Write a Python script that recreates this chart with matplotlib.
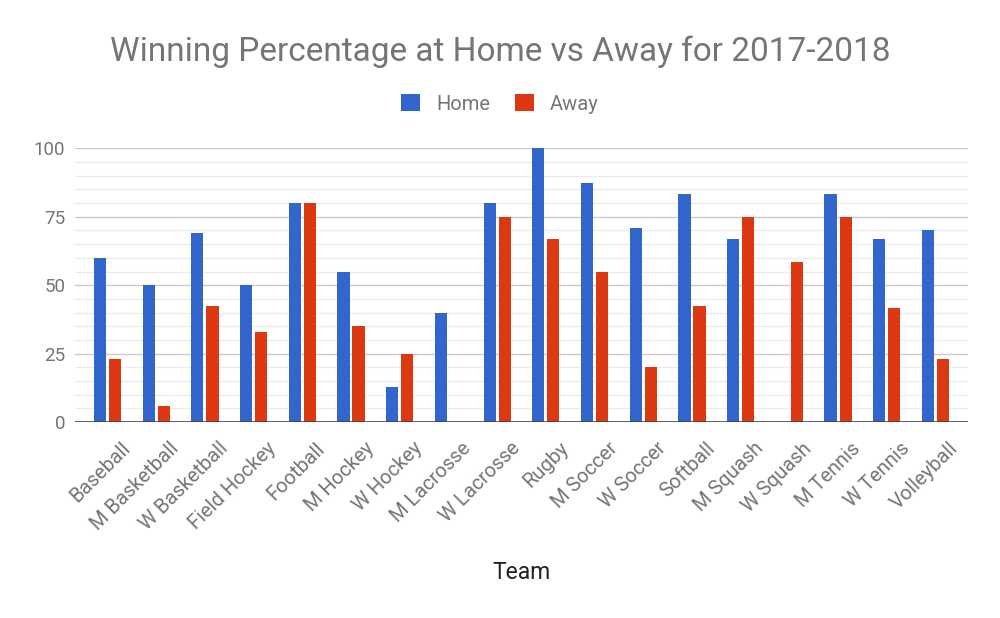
import numpy as np
import matplotlib
matplotlib.use('Agg')
import matplotlib.pyplot as plt
from matplotlib.ticker import MultipleLocator
from matplotlib.transforms import ScaledTranslation

teams = ['Baseball', 'M Basketball', 'W Basketball', 'Field Hockey', 'Football',
         'M Hockey', 'W Hockey', 'M Lacrosse', 'W Lacrosse', 'Rugby', 'M Soccer',
         'W Soccer', 'Softball', 'M Squash', 'W Squash', 'M Tennis', 'W Tennis',
         'Volleyball']
home = [60, 50, 69, 50, 80, 55, 13, 40, 80, 100, 87.5, 71, 83.3, 66.7, 0, 83.3, 66.7, 70]
away = [23, 6, 42.5, 33, 80, 35, 25, 0, 75, 66.7, 55, 20, 42.5, 75, 58.3, 75, 41.7, 23]
y_ticks = [0, 25, 50, 75, 100]

plt.rcParams['font.family'] = ['Roboto', 'DejaVu Sans']

fig = plt.figure(figsize=(10, 6.18), dpi=100)
ax = fig.add_axes([0.075, 0.317, 0.893, 0.443])

x = np.arange(len(teams))
w = 0.25
off = 0.155
ax.bar(x - off, home, w, color='#3366cc', label='Home', zorder=3)
ax.bar(x + off, away, w, color='#dc3912', label='Away', zorder=3)

ax.set_xlim(-0.667, len(teams) - 1 + 0.667)
ax.set_ylim(0, 100)
ax.set_yticks(y_ticks)
ax.yaxis.set_minor_locator(MultipleLocator(5))
ax.grid(axis='y', which='major', color='#cccccc', linewidth=1, zorder=0)
ax.grid(axis='y', which='minor', color='#ebebeb', linewidth=1, zorder=0)
ax.axhline(0, color='#444444', linewidth=1.2, zorder=4)
for s in ax.spines.values():
    s.set_visible(False)
ax.tick_params(axis='both', which='both', length=0)
ax.tick_params(axis='y', labelsize=13.5, labelcolor='#757575', pad=7)

ax.set_xticks(x)
ax.set_xticklabels(teams, rotation=45, ha='right', va='top', rotation_mode='anchor',
                   fontsize=14.5, color='#757575')
ax.tick_params(axis='x', pad=12)
shift = ScaledTranslation(0.13, 0, fig.dpi_scale_trans)
for lab in ax.get_xticklabels():
    lab.set_transform(lab.get_transform() + shift)

fig.text(0.5, 0.917, 'Winning Percentage at Home vs Away for 2017-2018',
         ha='center', va='center', fontsize=24, color='#757575')
fig.text(0.5215, 0.074, 'Team', ha='center', va='center', fontsize=16.5,
         color='#222222')

leg = fig.legend(loc='center', bbox_to_anchor=(0.5, 0.832), ncol=2, frameon=False,
                 fontsize=14.5, handlelength=0.95, handleheight=0.95,
                 handletextpad=0.8, columnspacing=1.2)
for t in leg.get_texts():
    t.set_color('#757575')

fig.savefig('out.png', dpi=100)
